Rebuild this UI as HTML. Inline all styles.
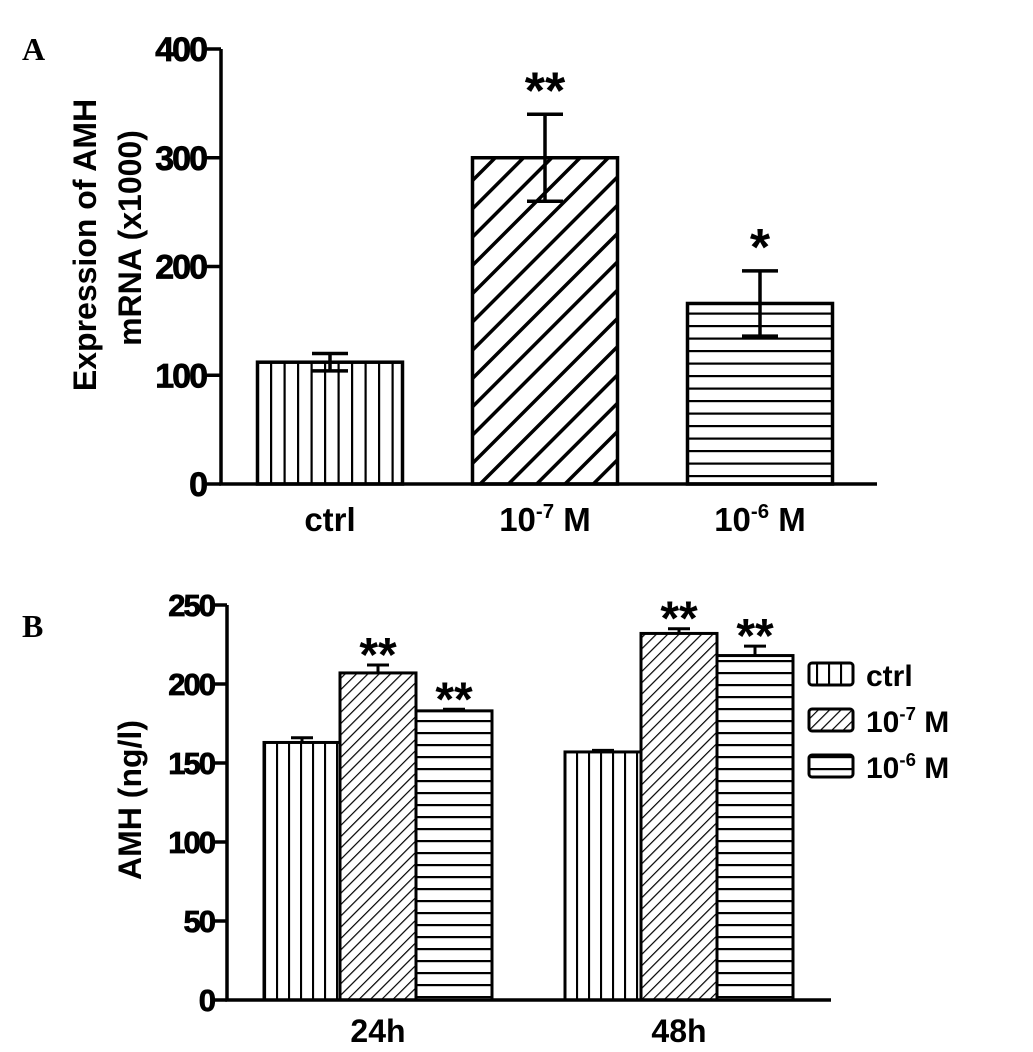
<!DOCTYPE html>
<html><head><meta charset="utf-8"><style>
html,body{margin:0;padding:0;background:#fff;}
svg{display:block;font-family:"Liberation Sans",Arial,sans-serif;}
.t{font-weight:bold;fill:#000;}
.tk{font-weight:bold;fill:#000;stroke:#000;stroke-width:0.8;}
</style></head><body>
<svg id="fig" width="1033" height="1052" viewBox="0 0 1033 1052" xmlns="http://www.w3.org/2000/svg">
<defs>
<pattern id="pAv" patternUnits="userSpaceOnUse" width="13.5" height="10"><rect width="13.5" height="10" fill="#fff"/><line x1="1" y1="0" x2="1" y2="10" stroke="#000" stroke-width="2.4"/></pattern>
<pattern id="pAd" patternUnits="userSpaceOnUse" width="20" height="20" patternTransform="rotate(45)"><rect width="20" height="20" fill="#fff"/><line x1="0" y1="0" x2="0" y2="20" stroke="#000" stroke-width="7"/></pattern>
<pattern id="pAh" patternUnits="userSpaceOnUse" width="10" height="12.5"><rect width="10" height="12.5" fill="#fff"/><line x1="0" y1="1" x2="10" y2="1" stroke="#000" stroke-width="2.4"/></pattern>
<pattern id="pBv" patternUnits="userSpaceOnUse" width="12" height="10"><rect width="12" height="10" fill="#fff"/><line x1="1" y1="0" x2="1" y2="10" stroke="#000" stroke-width="2.2"/></pattern>
<pattern id="pBd" patternUnits="userSpaceOnUse" width="8" height="8" patternTransform="rotate(45)"><rect width="8" height="8" fill="#fff"/><line x1="0" y1="0" x2="0" y2="8" stroke="#000" stroke-width="2.4"/></pattern>
<pattern id="pBh" patternUnits="userSpaceOnUse" width="10" height="12"><rect width="10" height="12" fill="#fff"/><line x1="0" y1="1" x2="10" y2="1" stroke="#000" stroke-width="2.4"/></pattern>
</defs>
<text x="22" y="60" style="font-family:'Liberation Serif',serif;font-weight:bold;font-size:32px">A</text>
<text x="22" y="637" style="font-family:'Liberation Serif',serif;font-weight:bold;font-size:32px">B</text>
<g id="gA"></g>
<g id="gB"></g>
</svg>
<script>
// Panel A data
const catsA = ['ctrl', '10-7 M', '10-6 M'];
const valsA = [112, 300, 166];
const errA = [8, 40, 30];
const sigA = ['', '**', '*'];
const ticksA = [0, 100, 200, 300, 400];
// Panel B data
const groupsB = ['24h', '48h'];
const seriesB = ['ctrl', '10-7 M', '10-6 M'];
const ctrlB = [163, 157];
const m7B = [207, 232];
const m6B = [183, 218];
const ctrlErrB = [3, 1];
const m7ErrB = [5, 3];
const m6ErrB = [1, 6];
const sigCtrlB = ['', ''];
const sig7B = ['**', '**'];
const sig6B = ['**', '**'];
const ticksB = [0, 50, 100, 150, 200, 250];

const NS = 'http://www.w3.org/2000/svg';
function mk(parent, tag, attrs) {
  const e = document.createElementNS(NS, tag);
  for (const k in attrs) e.setAttribute(k, attrs[k]);
  parent.appendChild(e);
  return e;
}
function labelWithSup(parent, x, y, label, size) {
  const t = mk(parent, 'text', {x: x, y: y, 'text-anchor': 'middle', class: 't', 'font-size': size});
  const m = label.match(/^10(-\d) M$/);
  if (m) {
    const a = document.createElementNS(NS, 'tspan'); a.textContent = '10'; t.appendChild(a);
    const b = document.createElementNS(NS, 'tspan'); b.textContent = m[1];
    b.setAttribute('dy', -size * 0.4); b.setAttribute('font-size', size * 0.62); t.appendChild(b);
    const c = document.createElementNS(NS, 'tspan'); c.textContent = ' M';
    c.setAttribute('dy', size * 0.4); t.appendChild(c);
  } else t.textContent = label;
  return t;
}

// ---------- Panel A ----------
const gA = document.getElementById('gA');
const A = {x0: 221, x1: 877, y0: 484, y1: 49, max: 400};
const yA = v => A.y0 - (v / A.max) * (A.y0 - A.y1);
const xA = i => 330 + i * 215;
const bwA = 145;
const patA = ['url(#pAv)', 'url(#pAd)', 'url(#pAh)'];
valsA.forEach((v, i) => {
  const r = mk(gA, 'rect', {x: xA(i) - bwA / 2, y: yA(v), width: bwA, height: A.y0 - yA(v), fill: patA[i], stroke: '#000', 'stroke-width': 3.5});
  
  
  const c = xA(i), hi = yA(v + errA[i]), lo = yA(v - errA[i]);
  const eb = mk(gA, 'path', {d: `M${c},${lo}V${hi}M${c - 18},${hi}H${c + 18}M${c - 18},${lo}H${c + 18}`, stroke: '#000', 'stroke-width': 3.5, fill: 'none'});
  
  
  if (sigA[i]) {
    const s = mk(gA, 'text', {x: c, y: hi - 6, 'text-anchor': 'middle', 'font-size': 52, class: 't'});
    s.textContent = sigA[i];
    
    
  }
  const l = labelWithSup(gA, c, 531, catsA[i], 33);
  
  
});
const axA = mk(gA, 'path', {d: `M${A.x0},${A.y1}V${A.y0}H${A.x1}`, stroke: '#000', 'stroke-width': 3.5, fill: 'none'});


ticksA.forEach(t => {
  const tk = mk(gA, 'line', {x1: A.x0 - 14, x2: A.x0, y1: yA(t), y2: yA(t), stroke: '#000', 'stroke-width': 3.5});
  
  
  const tl = mk(gA, 'text', {x: A.x0 - 15, y: yA(t) + 12, 'text-anchor': 'end', 'font-size': 34, class: 'tk', 'letter-spacing': -2});
  tl.textContent = t;
  
  
});
const ytA = mk(gA, 'text', {transform: 'translate(96,245) rotate(-90)', 'text-anchor': 'middle', 'font-size': 32, class: 't'});
ytA.textContent = 'Expression of AMH';


const ytA2 = mk(gA, 'text', {transform: 'translate(141,238) rotate(-90)', 'text-anchor': 'middle', 'font-size': 32, class: 't'});
ytA2.textContent = 'mRNA (x1000)';



// ---------- Panel B ----------
const gB = document.getElementById('gB');
const B = {x0: 227, x1: 831, y0: 1000, y1: 605, max: 250};
const yB = v => B.y0 - (v / B.max) * (B.y0 - B.y1);
const bwB = 76;
const xB = (g, s) => 264 + g * 301 + s * bwB;
const valsB = [ctrlB, m7B, m6B];
const errsB = [ctrlErrB, m7ErrB, m6ErrB];
const sigsB = [sigCtrlB, sig7B, sig6B];
const patB = ['url(#pBv)', 'url(#pBd)', 'url(#pBh)'];
groupsB.forEach((g, gi) => {
  valsB.forEach((arr, si) => {
    const v = arr[gi];
    const r = mk(gB, 'rect', {x: xB(gi, si), y: yB(v), width: bwB, height: B.y0 - yB(v), fill: patB[si], stroke: '#000', 'stroke-width': 3});
    
    
    const c = xB(gi, si) + bwB / 2, hi = yB(v + errsB[si][gi]);
    const eb = mk(gB, 'path', {d: `M${c},${yB(v)}V${hi}M${c - 11},${hi}H${c + 11}`, stroke: '#000', 'stroke-width': 3, fill: 'none'});
    
    
    if (sigsB[si][gi]) {
      const s = mk(gB, 'text', {x: c, y: hi + 6, 'text-anchor': 'middle', 'font-size': 48, class: 't'});
      s.textContent = sigsB[si][gi];
      
      
    }
  });
  const l = mk(gB, 'text', {x: xB(gi, 1.5), y: 1042, 'text-anchor': 'middle', 'font-size': 32, class: 't'});
  l.textContent = g;
  
  
});
const axB = mk(gB, 'path', {d: `M${B.x0},${B.y1}V${B.y0}H${B.x1}`, stroke: '#000', 'stroke-width': 3.5, fill: 'none'});


ticksB.forEach(t => {
  const tk = mk(gB, 'line', {x1: B.x0 - 13, x2: B.x0, y1: yB(t), y2: yB(t), stroke: '#000', 'stroke-width': 3.5});
  
  
  const tl = mk(gB, 'text', {x: B.x0 - 13, y: yB(t) + 11, 'text-anchor': 'end', 'font-size': 31, class: 'tk', 'letter-spacing': -2});
  tl.textContent = t;
  
  
});
const ytB = mk(gB, 'text', {transform: 'translate(141,800) rotate(-90)', 'text-anchor': 'middle', 'font-size': 32, class: 't'});
ytB.textContent = 'AMH (ng/l)';


seriesB.forEach((s, i) => {
  const yy = 663 + i * 46;
  const box = mk(gB, 'rect', {x: 809, y: yy, width: 44, height: 22, rx: 3, fill: patB[i], stroke: '#000', 'stroke-width': 3});
  
  
  const lt = labelWithSup(gB, 0, yy + 23, s, 30);
  lt.setAttribute('text-anchor', 'start');
  lt.setAttribute('x', 866);
  
  
});
</script>
</body></html>
